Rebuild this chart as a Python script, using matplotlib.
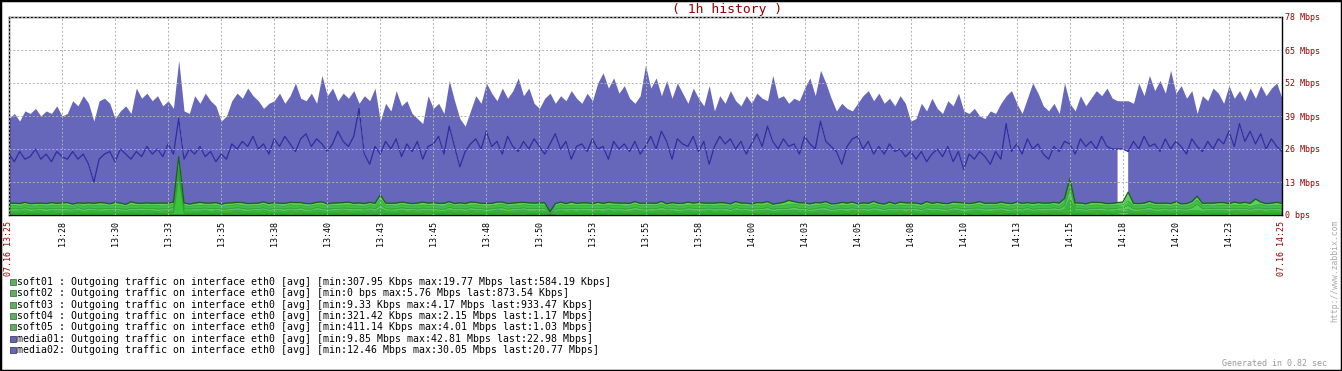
import numpy as np
import matplotlib.pyplot as plt
from matplotlib.patches import Rectangle

# ---- data (Mbps, one value every 15 s, 13:25 -> 14:25) ----
minutes = np.linspace(0, 60, 241)

# stacked top of everything (media02 upper edge)
total_level = [
    38,40,37,41, 40,42,39,41, 40,43,39,40, 45,43,47,44, 37,45,46,44,
    38,41,43,40, 50,46,48,45, 47,43,45,42, 61,41,40,47, 44,48,45,43,
    37,39,45,48, 46,50,47,45, 42,44,45,48, 44,47,52,46, 45,48,44,55,
    47,50,45,48, 46,49,44,47, 45,50,37,44, 41,49,43,45, 40,38,36,47,
    42,44,40,53, 45,38,35,41, 47,44,52,48, 45,50,46,49, 54,47,50,44,
    42,46,48,44, 47,45,49,46, 44,48,45,52, 56,50,54,48, 51,46,44,47,
    59,50,54,47, 53,46,52,48, 44,50,46,43, 51,41,47,44, 49,45,43,47,
    44,48,46,45, 55,46,47,44, 46,45,50,54, 47,57,52,46, 41,44,42,41,
    44,47,49,45, 48,44,46,43, 47,44,37,38, 44,41,46,42, 40,45,43,48,
    41,40,42,39, 38,41,40,44, 47,49,44,40, 46,52,48,43, 41,44,40,52,
    44,41,47,43, 46,49,47,50, 46,45,45,45, 44,52,47,55, 49,53,48,57,
    48,51,46,49, 40,47,45,50, 48,44,51,46, 49,45,50,46, 51,47,50,52,
    46]

# stacked top of media01 (the dark blue line)
media01_level = [
    24,21,25,22, 23,26,22,24, 21,25,23,22, 25,22,24,20, 13,22,24,25,
    21,26,24,22, 25,23,27,24, 26,23,28,24, 38,22,26,24, 27,23,25,21,
    24,22,28,26, 29,27,31,26, 28,24,30,27, 31,28,25,30, 32,27,30,28,
    25,28,33,29, 27,31,42,24, 20,27,24,29, 26,30,23,28, 25,29,22,27,
    28,31,24,35, 27,19,25,28, 30,26,33,27, 29,24,31,27, 25,29,26,30,
    27,24,28,32, 26,29,22,27, 28,25,30,26, 27,22,29,26, 28,25,29,24,
    27,31,26,33, 29,22,30,28, 27,31,25,29, 20,27,31,28, 30,26,29,24,
    28,32,27,35, 29,26,30,27, 28,24,31,28, 26,37,29,27, 25,20,27,30,
    31,26,29,24, 27,24,28,25, 26,23,25,22, 25,21,24,26, 23,27,21,25,
    18,24,22,25, 23,20,25,22, 36,25,28,24, 30,26,28,24, 22,27,25,29,
    28,24,30,27, 29,26,31,27, 26,26,26,25, 29,26,31,27, 28,25,30,26,
    29,27,24,30, 27,25,29,26, 30,28,33,27, 36,29,33,28, 32,26,30,27,
    25]
media01_gap = [52.5]   # minute where media01 had no data

soft01 = [
    0.6,0.8,0.7,0.9,0.6,0.7,0.8,0.6,0.9,0.7,0.6,0.8,0.7,0.9,0.6,0.8,0.7,0.6,0.8,0.7,
    0.9,0.6,0.7,0.8,0.6,0.9,0.7,0.8,0.6,0.7,0.8,0.9,15.5,0.7,0.6,0.8,0.7,0.9,0.6,0.8,
    0.7,0.6,0.8,0.9,0.7,0.6,0.8,0.7,0.9,0.6,0.8,0.7,0.6,0.9,0.7,0.8,0.6,0.7,0.9,0.8,
    0.6,0.8,0.7,0.9,0.7,0.6,0.8,0.7,0.9,0.6,1.0,0.7,0.8,0.6,0.9,0.7,0.8,0.6,0.7,0.9,
    0.8,0.7,0.6,0.9,0.7,0.8,0.6,0.9,0.7,0.8,0.6,0.7,0.9,0.8,0.6,0.7,0.8,0.9,0.6,0.7,
    0.8,0.6,0.3,0.7,0.9,0.6,0.8,0.7,0.9,0.6,0.7,0.8,0.6,0.9,0.7,0.8,0.6,0.7,0.9,0.8,
    0.7,0.6,0.8,0.9,0.7,0.8,0.6,0.7,0.9,0.6,0.8,0.7,0.9,0.6,0.8,0.7,0.6,0.9,0.7,0.8,
    0.6,0.8,0.7,0.9,0.6,0.7,0.8,0.6,0.9,0.7,0.8,0.6,0.7,0.9,0.8,0.6,0.7,0.8,0.6,0.9,
    0.7,0.8,0.6,0.9,0.7,0.6,0.8,0.7,0.9,0.6,0.8,0.7,0.6,0.9,0.7,0.8,0.6,0.7,0.9,0.8,
    0.6,0.7,0.9,0.8,0.6,0.7,0.8,0.9,0.6,0.7,0.8,0.6,0.9,0.7,0.8,0.6,0.7,0.9,0.8,0.7,
    0.9,0.6,0.8,0.7,0.6,0.9,0.7,0.8,0.6,0.7,0.9,0.8,0.6,0.7,0.8,0.9,0.6,0.7,0.8,0.6,
    0.7,0.9,0.6,0.8,0.7,0.6,0.9,0.7,0.8,0.6,0.7,0.9,0.8,0.6,0.7,0.8,0.9,0.6,0.7,0.8,
    0.6]
soft02 = [
    1.0,0.8,0.9,1.1,0.8,1.0,0.9,0.7,1.0,0.9,1.1,0.8,0.9,1.0,0.8,0.9,1.1,0.9,0.8,1.0,
    0.9,1.0,0.8,0.9,1.1,0.8,1.0,0.9,0.8,1.0,0.9,1.1,1.2,0.9,1.0,0.8,0.9,1.1,0.8,1.0,
    0.8,1.0,0.9,1.1,0.9,0.8,1.0,0.9,1.1,0.8,0.9,1.0,0.8,1.1,0.9,1.0,0.8,0.9,1.1,1.0,
    0.9,0.8,1.0,1.1,0.9,1.0,0.8,0.9,1.1,0.9,1.6,1.0,0.8,0.9,1.1,0.8,1.0,0.9,1.1,0.8,
    1.0,0.9,0.8,1.1,0.9,1.0,0.8,1.1,0.9,1.0,0.8,0.9,1.1,1.0,0.8,0.9,1.0,1.1,0.9,0.8,
    1.0,0.9,0.0,0.8,1.1,0.9,1.0,0.8,0.9,1.1,0.8,1.0,0.9,1.1,0.8,1.0,0.9,0.8,1.1,0.9,
    0.9,1.0,0.8,1.1,0.9,1.0,0.8,0.9,1.1,1.0,0.8,0.9,1.1,0.8,1.0,0.9,0.8,1.1,0.9,1.0,
    0.8,0.9,1.1,1.0,0.8,0.9,1.0,1.2,1.1,0.9,1.0,0.8,0.9,1.1,1.0,0.8,0.9,1.0,0.8,1.1,
    0.9,1.0,0.8,1.1,0.9,0.8,1.0,0.9,1.1,0.8,1.0,0.9,0.8,1.1,0.9,1.0,0.8,0.9,1.1,1.0,
    0.8,0.9,1.1,1.0,0.9,0.8,1.0,1.1,0.9,0.8,1.0,0.9,1.1,0.8,0.9,1.0,1.1,0.9,0.8,1.6,
    5.7,1.0,0.9,0.8,1.1,0.9,1.0,0.8,0.9,1.1,1.0,1.4,0.9,0.8,1.0,1.1,0.9,0.8,1.0,0.9,
    1.1,0.8,0.9,1.0,1.1,0.9,0.8,1.0,0.9,1.1,0.8,1.0,0.9,1.1,0.8,0.9,1.0,0.8,1.1,0.9,
    0.9]
soft03 = [
    0.9,1.0,0.8,0.9,1.0,0.8,0.9,1.1,0.8,0.9,1.0,0.9,0.8,1.0,0.9,1.1,0.8,0.9,1.0,0.8,
    1.0,0.9,0.8,1.0,0.9,1.1,0.8,0.9,1.0,0.8,0.9,1.0,1.1,0.9,0.8,1.0,0.9,0.8,1.1,0.9,
    0.9,0.8,1.0,0.9,1.1,0.9,0.8,1.0,0.9,0.8,1.1,0.9,1.0,0.8,0.9,1.1,0.9,0.8,1.0,0.9,
    0.8,1.0,0.9,0.8,1.1,0.9,1.0,0.8,0.9,1.0,1.5,0.9,0.8,1.0,0.9,1.1,0.8,0.9,1.0,0.9,
    1.0,0.8,0.9,1.1,0.9,0.8,1.0,0.9,1.1,0.8,0.9,1.0,0.8,1.1,0.9,1.0,0.8,0.9,1.0,1.1,
    0.9,1.0,0.0,0.9,0.8,1.0,0.9,1.1,0.8,0.9,1.0,0.8,1.1,0.9,1.0,0.8,0.9,1.1,1.0,0.9,
    0.8,1.0,0.9,1.1,0.8,0.9,1.0,0.8,0.9,1.1,1.0,0.9,0.8,1.0,0.9,1.1,0.8,1.0,0.9,0.8,
    1.0,0.9,0.8,1.1,0.9,1.0,0.8,0.9,1.2,1.0,0.9,0.8,1.0,0.9,1.1,0.8,0.9,1.0,1.1,0.9,
    0.8,0.9,1.0,0.9,1.1,0.8,1.0,0.9,0.8,1.1,0.9,1.0,0.8,0.9,1.1,0.9,1.0,0.8,0.9,1.0,
    1.1,0.9,0.8,1.0,0.9,1.1,0.8,0.9,1.0,0.8,1.1,0.9,1.0,0.8,0.9,1.0,0.8,1.1,0.9,1.5,
    3.9,1.1,0.9,0.8,1.0,0.9,1.1,0.8,1.0,0.9,0.8,1.6,1.0,0.9,0.8,1.1,0.9,1.0,0.8,0.9,
    1.0,0.8,0.9,1.1,2.5,1.0,0.9,0.8,1.0,0.9,1.1,0.8,0.9,1.0,0.8,1.1,0.9,1.0,0.8,1.0,
    0.9]
soft04 = [
    1.1,1.2,1.0,1.1,1.3,1.0,1.2,1.1,1.0,1.2,1.1,1.3,1.0,1.1,1.2,1.0,1.1,1.3,1.2,1.0,
    1.1,1.2,1.0,1.3,1.1,1.0,1.2,1.1,1.3,1.0,1.2,1.1,1.4,1.2,1.0,1.1,1.3,1.0,1.2,1.1,
    1.0,1.2,1.1,1.3,1.0,1.2,1.1,1.0,1.3,1.1,1.2,1.0,1.1,1.3,1.2,1.0,1.1,1.2,1.0,1.3,
    1.1,1.2,1.0,1.1,1.3,1.2,1.0,1.1,1.2,1.0,2.1,1.1,1.3,1.0,1.2,1.1,1.0,1.3,1.1,1.2,
    1.0,1.2,1.1,1.3,1.0,1.1,1.2,1.0,1.3,1.1,1.2,1.0,1.1,1.3,1.2,1.0,1.1,1.2,1.3,1.0,
    1.2,1.1,0.6,1.0,1.3,1.1,1.2,1.0,1.1,1.3,1.0,1.2,1.1,1.0,1.3,1.2,1.1,1.0,1.2,1.1,
    1.3,1.0,1.2,1.1,1.0,1.3,1.1,1.2,1.0,1.1,1.3,1.2,1.0,1.1,1.2,1.0,1.3,1.1,1.2,1.0,
    1.1,1.3,1.0,1.2,1.1,1.0,1.2,1.5,1.1,1.3,1.0,1.2,1.1,1.0,1.3,1.2,1.1,1.0,1.2,1.1,
    1.0,1.2,1.1,1.3,1.0,1.1,1.2,1.0,1.1,1.3,1.2,1.0,1.1,1.2,1.0,1.3,1.1,1.2,1.0,1.1,
    1.2,1.0,1.1,1.3,1.2,1.0,1.1,1.2,1.0,1.3,1.1,1.2,1.0,1.1,1.3,1.0,1.2,1.1,1.0,1.4,
    1.9,1.1,1.0,1.2,1.1,1.3,1.0,1.2,1.1,1.0,1.3,1.7,1.1,1.2,1.0,1.1,1.3,1.2,1.0,1.1,
    1.2,1.0,1.1,1.3,1.6,1.1,1.2,1.0,1.1,1.3,1.0,1.2,1.1,1.2,1.0,1.1,1.3,1.2,1.0,1.1,
    1.2]
soft05 = [
    1.0,0.9,1.1,1.0,0.8,1.1,0.9,1.0,1.2,0.9,1.0,1.1,0.9,0.8,1.1,1.0,0.9,1.2,1.0,0.9,
    1.1,1.0,0.9,1.2,1.0,0.8,1.1,0.9,1.0,1.2,0.9,1.0,3.8,1.1,0.9,1.0,1.2,0.9,1.0,1.1,
    0.9,1.1,1.0,0.8,1.2,1.0,0.9,1.1,1.0,1.2,0.9,1.0,1.1,0.9,1.2,1.0,1.1,0.9,1.0,1.2,
    1.0,0.9,1.2,1.0,1.1,0.9,1.2,1.0,0.9,1.1,1.8,1.0,0.9,1.2,1.0,1.1,0.9,1.0,1.2,0.9,
    1.1,1.0,1.2,0.9,1.0,1.1,0.9,1.2,1.0,0.9,1.1,1.0,1.2,0.9,1.0,1.1,1.2,0.9,1.0,1.1,
    0.9,1.2,0.4,1.1,1.0,0.9,1.2,1.0,1.1,0.9,1.0,1.2,0.9,1.1,1.0,0.9,1.2,1.0,1.1,0.9,
    1.0,1.1,0.9,1.2,1.0,0.9,1.1,1.0,1.2,0.9,1.1,1.0,0.9,1.2,1.0,1.1,0.9,1.2,1.0,1.1,
    0.9,1.0,1.2,1.1,0.9,1.0,1.2,1.6,1.0,0.9,1.1,1.0,1.2,0.9,1.1,1.0,0.9,1.2,1.0,1.1,
    1.0,0.9,1.1,1.2,0.9,1.0,1.1,0.9,1.2,1.0,0.9,1.1,1.0,1.2,0.9,1.0,1.1,0.9,1.2,1.0,
    1.1,1.0,0.9,1.2,1.0,1.1,0.9,1.0,1.2,0.9,1.1,1.0,0.9,1.2,1.0,1.1,0.9,1.0,1.2,1.3,
    2.0,1.0,1.1,0.9,1.2,1.0,1.1,0.9,1.0,1.2,1.1,3.5,1.0,0.9,1.1,1.2,1.0,0.9,1.1,1.0,
    1.2,0.9,1.0,1.1,1.5,1.0,0.9,1.2,1.1,1.0,0.9,1.2,1.0,1.1,1.3,2.4,1.0,0.9,1.1,1.2,
    1.0]

time_labels = ["07.16 13:25", "13:28", "13:30", "13:33", "13:35", "13:38", "13:40",
               "13:43", "13:45", "13:48", "13:50", "13:53", "13:55", "13:58", "14:00",
               "14:03", "14:05", "14:08", "14:10", "14:13", "14:15", "14:18", "14:20",
               "14:23", "07.16 14:25"]
y_values = [0, 13, 26, 39, 52, 65, 78]
y_labels = ["0 bps", "13 Mbps", "26 Mbps", "39 Mbps", "52 Mbps", "65 Mbps", "78 Mbps"]

legend_names = ["soft01 ", "soft02 ", "soft03 ", "soft04 ", "soft05 ", "media01", "media02"]
legend_stats = ["[min:307.95 Kbps max:19.77 Mbps last:584.19 Kbps]",
                "[min:0 bps max:5.76 Mbps last:873.54 Kbps]",
                "[min:9.33 Kbps max:4.17 Mbps last:933.47 Kbps]",
                "[min:321.42 Kbps max:2.15 Mbps last:1.17 Mbps]",
                "[min:411.14 Kbps max:4.01 Mbps last:1.03 Mbps]",
                "[min:9.85 Mbps max:42.81 Mbps last:22.98 Mbps]",
                "[min:12.46 Mbps max:30.05 Mbps last:20.77 Mbps]"]

W, H = 1342, 371
MONO = "DejaVu Sans Mono"
DARKRED = "#990000"
BLUE = "#6666bb"
soft_colors = ["#3cc23c", "#33b833", "#55cc55", "#3dc43d", "#5ad25a"]

fig = plt.figure(figsize=(W / 100, H / 100), dpi=100)
fig.patch.set_facecolor("white")
ax = fig.add_axes([9 / W, 1 - 215 / H, 1273 / W, 198 / H])

top = np.array(total_level, dtype=float)
m1 = np.array(media01_level, dtype=float)
has_m1 = ~np.isin(minutes, media01_gap)

# media02 sits on top of media01, media01 on top of the soft stack
ax.fill_between(minutes, m1, top, color=BLUE, lw=0)
ax.fill_between(minutes, 0, m1, where=has_m1, color=BLUE, lw=0)
ax.plot(minutes, m1, color="#2d2d9f", lw=0.9)

soft = np.cumsum(np.vstack([soft01, soft02, soft03, soft04, soft05]), axis=0)
prev = np.zeros_like(minutes)
for k in range(soft.shape[0]):
    ax.fill_between(minutes, prev, soft[k], color=soft_colors[k], lw=0)
    ax.plot(minutes, soft[k], color="#2f9a2f", lw=0.4)
    prev = soft[k]
ax.plot(minutes, soft[-1], color="#1c601c", lw=0.9)

ax.set_xlim(0, 60)
ax.set_ylim(0, 78)
ax.set_xticks(np.arange(0, 60.01, 2.5))
ax.set_xticklabels(time_labels, rotation=90, fontsize=6, family=MONO)
for i, lab in enumerate(ax.get_xticklabels()):
    lab.set_color(DARKRED if i in (0, len(time_labels) - 1) else "black")
ax.yaxis.tick_right()
ax.set_yticks(y_values)
ax.set_yticklabels(y_labels, fontsize=6, family=MONO, color=DARKRED)
ax.tick_params(axis="both", length=0)
ax.tick_params(axis="x", pad=4)
ax.tick_params(axis="y", pad=2)

ax.set_axisbelow(False)
ax.grid(True, color="#b0b0b0", linestyle=(0, (2, 2)), lw=0.7)
for sp in ax.spines.values():
    sp.set_linestyle((0, (1, 1)))
    sp.set_linewidth(1)
    sp.set_color("black")

def fx(x):
    return x / W

def fy(y):
    return 1 - y / H

fig.text(fx(727), fy(10), "( 1h history )", color=DARKRED, fontsize=9.4,
         family=MONO, ha="center", va="center")

for i, (name, stats) in enumerate(zip(legend_names, legend_stats)):
    y = 282 + 11.3 * i
    col = "#66aa66" if name.startswith("soft") else "#6666aa"
    edge = "#3f7f3f" if name.startswith("soft") else "#3f3f7f"
    fig.add_artist(Rectangle((fx(10), fy(y + 3)), 6 / W, 6 / H, transform=fig.transFigure,
                             facecolor=col, edgecolor=edge, lw=0.6))
    fig.text(fx(17), fy(y), name + ": Outgoing traffic on interface eth0 [avg] " + stats,
             fontsize=7.1, family=MONO, ha="left", va="center", color="black")

fig.text(fx(1335), fy(271), "http://www.zabbix.com", rotation=90, fontsize=5.9,
         family=MONO, color="#aaaaaa", ha="center", va="center")
fig.text(fx(1327), fy(363), "Generated in 0.82 sec", fontsize=6, family=MONO,
         color="#999999", ha="right", va="center")

fig.add_artist(Rectangle((0, 0), 1, 1, transform=fig.transFigure, fill=False,
                         edgecolor="black", lw=2.5))

fig.savefig("out.png", dpi=100)
